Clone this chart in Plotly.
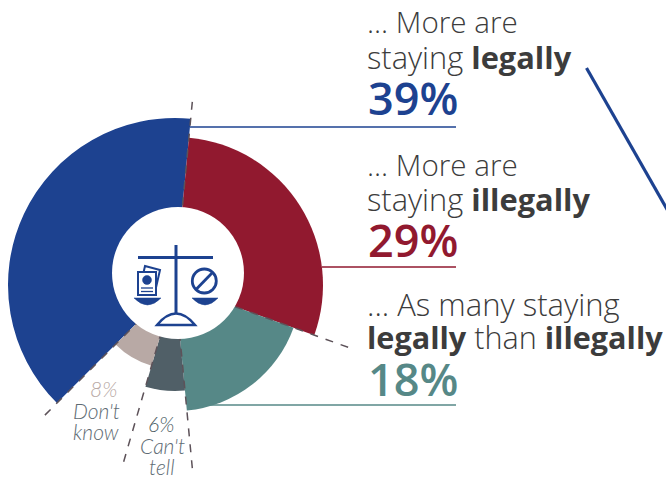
import math
import plotly.graph_objects as go

W, H = 666, 480
categories = ["More staying legally", "More staying illegally", "As many", "Can't tell", "Don't know"]
shares = [39, 29, 18, 6, 8]
radii = [167, 148, 126, 106, 84]
colors = ["#1d4290", "#91192f", "#568887", "#505f67", "#b8a9a5"]
start_angle = 225
dash_radius = 192
TXT = "#3c3c3c"
FONT = "Open Sans"
SMALL_FONT = "Lato"

def X(p): return p / W
def Y(p): return 1 - p / H

# polar centre (175,285), radius 170 px
cx, cy, R = 175, 285, 170
edges = [start_angle]
for s in shares:
    edges.append(edges[-1] + s * 3.6)
mids = [(edges[i] + edges[i + 1]) / 2 for i in range(len(shares))]
widths = [s * 3.6 for s in shares]

fig = go.Figure()
fig.add_trace(go.Barpolar(theta=mids, r=radii, width=widths, marker=dict(color=colors, line=dict(width=0)),
                          text=categories, hoverinfo="text"))

shapes = []
def line(x0, y0, x1, y1, color, width, dash="solid"):
    shapes.append(dict(type="line", xref="paper", yref="paper", x0=X(x0), y0=Y(y0), x1=X(x1), y1=Y(y1),
                       line=dict(color=color, width=width, dash=dash)))
def path(pts, fill, color, width):
    d = ""
    for cmd, coords in pts:
        d += cmd + " ".join(f"{X(coords[i]):.5f},{Y(coords[i+1]):.5f}" for i in range(0, len(coords), 2)) + " "
    d += "Z"
    shapes.append(dict(type="path", xref="paper", yref="paper", path=d, fillcolor=fill,
                       line=dict(color=color, width=width)))
def circle(x, y, r, fill, color, width):
    shapes.append(dict(type="circle", xref="paper", yref="paper", x0=X(x - r), y0=Y(y + r), x1=X(x + r), y1=Y(y - r),
                       fillcolor=fill, line=dict(color=color, width=width)))

# dashed slice separators, from the cumulative share angles
for e in edges[:-1]:
    a = math.radians(e)
    line(cx, cy, cx + dash_radius * math.sin(a), cy - dash_radius * math.cos(a), "#5d5259", 1.5, "8px,8px")

# leaders
line(190, 127, 456, 127, colors[0], 1.3)
line(322, 267, 456, 267, colors[1], 1.3)
line(187, 405, 456, 405, colors[2], 1.3)
line(586.5, 68, 672, 218, colors[0], 3.2)

# central icon
B = colors[0]
circle(178, 273, 66, "white", "white", 0)
line(176, 245, 176, 316, B, 3)
line(138, 257.5, 213, 257.5, B, 3)
path([("M", [134, 298]), ("Q", [147.5, 312, 161, 298])], B, B, 0.5)
path([("M", [192, 298]), ("Q", [205, 312, 218, 298])], B, B, 0.5)
path([("M", [157, 325]), ("Q", [176, 302, 195, 325])], "white", B, 2.5)
circle(204.3, 281, 12, "white", B, 2.8)
line(196, 289.5, 212.5, 272.5, B, 2.8)
path([("M", [145, 266]), ("L", [160, 270]), ("L", [155, 292]), ("L", [140, 288])], "white", B, 2)
path([("M", [138, 272]), ("L", [156, 272]), ("L", [156, 295]), ("L", [138, 295])], "white", B, 2)
circle(147, 280, 4.5, B, B, 0.5)
line(141, 288, 153, 288, B, 1.3)
line(141, 291.5, 153, 291.5, B, 1.3)

# text
right_lines = [
    ("... More are", 365, 22, 29.6),
    ("staying <b>legally</b>", 365, 57, 30.8),
    ("... More are", 365, 164, 29.6),
    ("staying <b>illegally</b>", 365, 199, 30.8),
    ("... As many staying", 365, 304, 31),
    ("<b>legally</b> than <b>illegally</b>", 365, 337, 30.6),
]
pct_lines = [("39%", 366, 97, colors[0]), ("29%", 366, 239, colors[1]), ("18%", 366, 378, colors[2])]
small_lines = [
    ("8%", 103, 388, colors[4]),
    ("Don't", 96, 410, "#5e6b73"),
    ("know", 96, 431, "#5e6b73"),
    ("6%", 161, 423, "#505f67"),
    ("Can't", 162, 445, "#5e6b73"),
    ("tell", 162, 466, "#5e6b73"),
]
ann = []
for t, x, y, s in right_lines:
    ann.append(dict(text=t, x=X(x), y=Y(y), xref="paper", yref="paper", xanchor="left", yanchor="middle",
                    showarrow=False, font=dict(family=FONT, size=s, color=TXT, weight=300)))
for t, x, y, c in pct_lines:
    ann.append(dict(text=t, x=X(x), y=Y(y), xref="paper", yref="paper", xanchor="left", yanchor="middle",
                    showarrow=False, font=dict(family=FONT, size=45, color=c, weight=600)))
for t, x, y, c in small_lines:
    ann.append(dict(text=t, x=X(x), y=Y(y), xref="paper", yref="paper", xanchor="center", yanchor="middle",
                    showarrow=False, font=dict(family=SMALL_FONT, size=21, color=c, style="italic", weight=300)))

fig.update_layout(
    width=W, height=H, margin=dict(l=0, r=0, t=0, b=0), showlegend=False, autosize=False,
    paper_bgcolor="white", plot_bgcolor="white", shapes=shapes, annotations=ann,
    polar=dict(
        domain=dict(x=[X(cx - R), X(cx + R)], y=[Y(cy + R), Y(cy - R)]),
        bgcolor="rgba(0,0,0,0)",
        radialaxis=dict(range=[0, R], visible=False),
        angularaxis=dict(rotation=90, direction="clockwise", visible=False),
    ),
)
fig.write_html("out.html", config=dict(displayModeBar=False),
               post_script="document.body.style.margin='0';document.documentElement.style.overflow='hidden';")
